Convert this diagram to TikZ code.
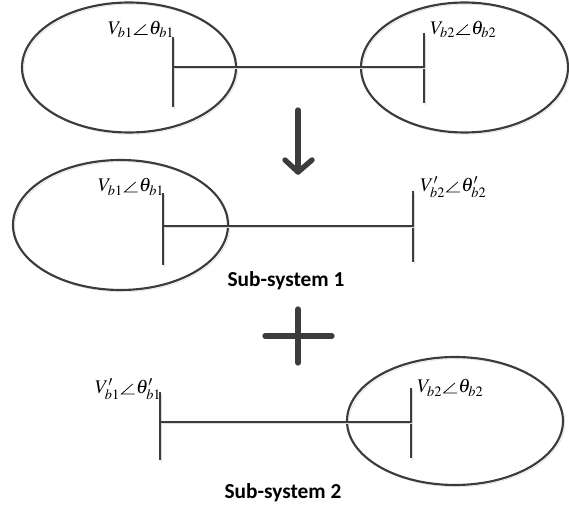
\documentclass[tikz,border=0pt]{standalone}
\usepackage[no-math]{fontspec}
\usepackage{mathptmx}
\newfontfamily\capfont{Carlito}
\newcommand{\ang}{\mathord{\mkern1mu\tikz[baseline=0pt,x=1pt,y=1pt,line width=0.55pt]\draw (8.5,7.5)--(0,0)--(10,0);\mkern1mu}}
\usetikzlibrary{calc}
\definecolor{dgray}{HTML}{3C3C3C}
\tikzset{
  shade/.style={preaction={draw=black!14,transform canvas={xshift=1.3pt,yshift=-1.3pt}}},
  bus/.style={dgray,line width=2.1pt,shade},
  tie/.style={dgray,line width=1.9pt,shade},
  area/.style={dgray,line width=1.6pt,shade},
  symb/.style={dgray,line width=4pt,line cap=round,line join=round,shade},
  volt/.style={inner sep=0pt,font=\fontsize{14.5}{17}\selectfont},
  subcap/.style={inner sep=0pt,font=\capfont\bfseries\fontsize{16}{19}\selectfont}
}
\begin{document}
\begin{tikzpicture}[x=0.75pt,y=-0.75pt]
    \useasboundingbox (0,0) rectangle (569,506);
    % whole system
    \draw[area] (129,67.5) ellipse [x radius=107, y radius=65];
    \draw[area] (464.5,67.5) ellipse [x radius=103.5, y radius=65];
    \coordinate (t1u) at (173,37);  \coordinate (t1d) at (173,107); \coordinate (t1m) at (173,67);
    \coordinate (t2u) at (424,33);  \coordinate (t2d) at (424,103); \coordinate (t2m) at (424,67);
    \draw[bus] (t1u)--(t1d);
    \draw[bus] (t2u)--(t2d);
    \draw[tie] (t1m)--(t2m);
    \node[volt,anchor=base east] (tv1) at (174.5,34.5) {$V_{b1}\ang\theta_{b1}$};
    \node[volt,anchor=base west] (tv2) at (430,34.5) {$V_{b2}\ang\theta_{b2}$};
    % arrow
    \coordinate (arrtop) at (298,110);
    \coordinate (arrtip) at (298,172);
    \draw[symb] (arrtop)--(arrtip);
    \draw[symb] ($(arrtip)+(-13,-12)$)--(arrtip)--($(arrtip)+(14,-12)$);
    % sub-system 1
    \draw[area] (120.5,225) ellipse [x radius=107.5, y radius=65];
    \coordinate (m1u) at (163,193); \coordinate (m1d) at (163,265); \coordinate (m1m) at (163,226);
    \coordinate (m2u) at (413,191); \coordinate (m2d) at (413,262); \coordinate (m2m) at (413,226);
    \draw[bus] (m1u)--(m1d);
    \draw[bus] (m2u)--(m2d);
    \draw[tie] (m1m)--(m2m);
    \node[volt,anchor=base east] (mv1) at (164.5,192) {$V_{b1}\ang\theta_{b1}$};
    \node[volt,anchor=base west] (mv2) at (420,192) {$V'_{b2}\ang\theta'_{b2}$};
    \node[subcap] (cap1) at (286,281) {Sub-system 1};
    % plus
    \coordinate (plw) at (265,336); \coordinate (ple) at (332,336);
    \coordinate (pln) at (298,309); \coordinate (pls) at (298,363);
    \draw[symb] (plw)--(ple);
    \draw[symb] (pln)--(pls);
    % sub-system 2
    \draw[area] (455,421) ellipse [x radius=108, y radius=64];
    \coordinate (s1u) at (160,392); \coordinate (s1d) at (160,460); \coordinate (s1m) at (160,422);
    \coordinate (s2u) at (411,388); \coordinate (s2d) at (411,458); \coordinate (s2m) at (411,422);
    \draw[bus] (s1u)--(s1d);
    \draw[bus] (s2u)--(s2d);
    \draw[tie] (s1m)--(s2m);
    \node[volt,anchor=base east] (sv1) at (161.5,394) {$V'_{b1}\ang\theta'_{b1}$};
    \node[volt,anchor=base west] (sv2) at (417,393) {$V_{b2}\ang\theta_{b2}$};
    \node[subcap] (cap2) at (283,493) {Sub-system 2};
\end{tikzpicture}
\end{document}
